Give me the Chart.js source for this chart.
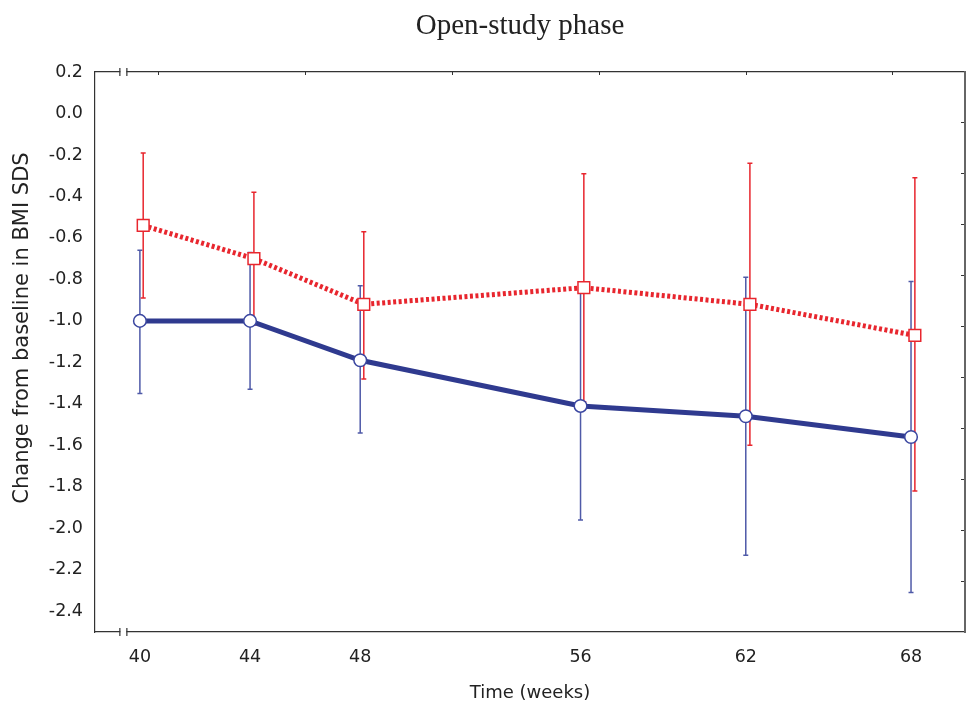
<!DOCTYPE html>
<html>
<head>
<meta charset="utf-8">
<title>Open-study phase</title>
<script src="https://cdn.jsdelivr.net/npm/chart.js@4.4.0/dist/chart.umd.min.js"></script>
<style>
  body { margin: 0; background: #fff; }
  canvas { display: block; }
</style>
</head>
<body>
<canvas id="myChart" width="972" height="707"></canvas>
<script>
'use strict';

// x axis labels (weeks) and y axis labels
let tickWeeks = [40, 44, 48, 56, 62, 68];
let yTicks = [0.2, 0.0, -0.2, -0.4, -0.6, -0.8, -1.0, -1.2, -1.4, -1.6, -1.8, -2.0, -2.2, -2.4];

// blue group, circles
let blueWeeks = [40, 44, 48, 56, 62, 68];
let blueMean = [-1.0, -1.0, -1.19, -1.41, -1.46, -1.56];
let blueLow = [-1.35, -1.33, -1.54, -1.96, -2.13, -2.31];
let blueHigh = [-0.66, -0.67, -0.83, -0.86, -0.79, -0.81];

// red group, squares (plotted a little to the right)
let redWeeks = [40.12, 44.14, 48.13, 56.12, 62.15, 68.14];
let redMean = [-0.54, -0.70, -0.92, -0.84, -0.92, -1.07];
let redLow = [-0.89, -1.02, -1.28, -1.39, -1.60, -1.82];
let redHigh = [-0.19, -0.38, -0.57, -0.29, -0.24, -0.31];

// decorative inner ticks on the top and right frame
let topFrameTicks = [0, 1, 2, 3, 4, 5];
let rightFrameTicks = [1, 2, 3, 4, 5, 6, 7, 8, 9, 10];

let breakAt = 39.4;

const blueLine = '#2f3a8f';
const blueBar = '#4f5aa8';
const red = '#e8262e';
const frame = '#333';
const sans = '"DejaVu Sans", Verdana, sans-serif';

function points(xs, ys) {
  let out = [];
  for (let i = 0; i < xs.length; i++) {
    out.push({ x: xs[i], y: ys[i] });
  }
  return out;
}

// error bars, drawn under the lines
const errorBars = {
  id: 'errorBars',
  beforeDatasetsDraw(chart) {
    const ctx = chart.ctx;
    const x = chart.scales.x;
    const y = chart.scales.y;
    const groups = [
      { xs: blueWeeks, low: blueLow, high: blueHigh, color: blueBar },
      { xs: redWeeks, low: redLow, high: redHigh, color: red }
    ];
    ctx.save();
    ctx.lineWidth = 1.5;
    groups.forEach(g => {
      ctx.strokeStyle = g.color;
      for (let i = 0; i < g.xs.length; i++) {
        let px = x.getPixelForValue(g.xs[i]);
        let top = y.getPixelForValue(g.high[i]);
        let bot = y.getPixelForValue(g.low[i]);
        ctx.beginPath();
        ctx.moveTo(px, top);
        ctx.lineTo(px, bot);
        ctx.moveTo(px - 2.5, top);
        ctx.lineTo(px + 2.5, top);
        ctx.moveTo(px - 2.5, bot);
        ctx.lineTo(px + 2.5, bot);
        ctx.stroke();
      }
    });
    ctx.restore();
  }
};

// title, y title and the axis break marks
const extras = {
  id: 'extras',
  afterDraw(chart) {
    const ctx = chart.ctx;
    const area = chart.chartArea;
    ctx.save();
    ctx.fillStyle = '#222';
    ctx.textAlign = 'center';
    ctx.textBaseline = 'middle';
    ctx.font = '29px "Liberation Serif", "Times New Roman", serif';
    ctx.fillText('Open-study phase', 520, 26);

    ctx.font = '21px ' + sans;
    ctx.translate(23, 328);
    ctx.rotate(-Math.PI / 2);
    ctx.fillText('Change from baseline in BMI SDS', 0, 0);
    ctx.restore();

    let px = chart.scales.x.getPixelForValue(breakAt);
    ctx.save();
    [area.top, area.bottom].forEach(yy => {
      ctx.fillStyle = '#fff';
      ctx.fillRect(px - 3, yy - 2, 6, 4);
      ctx.strokeStyle = frame;
      ctx.lineWidth = 1.2;
      ctx.beginPath();
      ctx.moveTo(px - 3.5, yy - 4);
      ctx.lineTo(px - 3.5, yy + 4);
      ctx.moveTo(px + 3.5, yy - 4);
      ctx.lineTo(px + 3.5, yy + 4);
      ctx.stroke();
    });
    ctx.restore();
  }
};

let ctx = document.getElementById('myChart').getContext('2d');
let myChart = new Chart(ctx, {
  type: 'line',
  data: {
    datasets: [{
      label: 'blue',
      data: points(blueWeeks, blueMean),
      borderColor: blueLine,
      borderWidth: 5,
      tension: 0,
      pointStyle: 'circle',
      pointRadius: 6.3,
      pointBorderWidth: 1.5,
      pointBorderColor: '#3a46a0',
      pointBackgroundColor: '#fff'
    }, {
      label: 'red',
      data: points(redWeeks, redMean),
      borderColor: red,
      borderWidth: 5,
      borderDash: [3, 2.5],
      borderCapStyle: 'butt',
      tension: 0,
      pointStyle: 'rect',
      pointRadius: 8.3,
      pointBorderWidth: 1.5,
      pointBorderColor: red,
      pointBackgroundColor: '#fff'
    }]
  },
  options: {
    responsive: false,
    animation: false,
    layout: { padding: 0, autoPadding: false },
    plugins: {
      legend: { display: false },
      tooltip: { enabled: false },
      title: { display: false }
    },
    scales: {
      x: {
        type: 'linear',
        position: 'bottom',
        min: 38.37,
        max: 69.96,
        afterBuildTicks: s => { s.ticks = tickWeeks.map(v => ({ value: v })); },
        afterFit: s => { s.height = 75; s.paddingLeft = 0; s.paddingRight = 0; },
        grid: { display: false, drawTicks: false },
        border: { display: true, color: frame, width: 1.2 },
        ticks: { padding: 15, color: '#222', font: { family: sans, size: 17.5 } },
        title: {
          display: true,
          text: 'Time (weeks)',
          color: '#222',
          font: { family: sans, size: 18 },
          padding: { top: 0, bottom: 3 }
        }
      },
      x2: {
        type: 'linear',
        position: 'top',
        min: -0.43,
        max: 5.49,
        afterBuildTicks: s => { s.ticks = topFrameTicks.map(v => ({ value: v })); },
        afterFit: s => { s.height = 72; s.paddingLeft = 0; s.paddingRight = 0; },
        grid: { display: true, drawOnChartArea: false, drawTicks: true, tickLength: -3, color: frame },
        border: { display: true, color: frame, width: 1.2 },
        ticks: { display: false }
      },
      y: {
        min: -2.5,
        max: 0.2,
        afterBuildTicks: s => { s.ticks = yTicks.map(v => ({ value: v })); },
        afterFit: s => { s.width = 95; },
        grid: { display: false, drawTicks: false },
        border: { display: true, color: frame, width: 1.2 },
        ticks: {
          padding: 12,
          color: '#222',
          font: { family: sans, size: 17.5 },
          callback: v => v.toFixed(1)
        }
      },
      y2: {
        type: 'linear',
        position: 'right',
        min: 0,
        max: 11,
        reverse: true,
        afterBuildTicks: s => { s.ticks = rightFrameTicks.map(v => ({ value: v })); },
        afterFit: s => { s.width = 7; },
        grid: { display: true, drawOnChartArea: false, drawTicks: true, tickLength: -4, color: frame },
        border: { display: true, color: '#666', width: 2 },
        ticks: { display: false }
      }
    }
  },
  plugins: [errorBars, extras]
});
</script>
</body>
</html>
